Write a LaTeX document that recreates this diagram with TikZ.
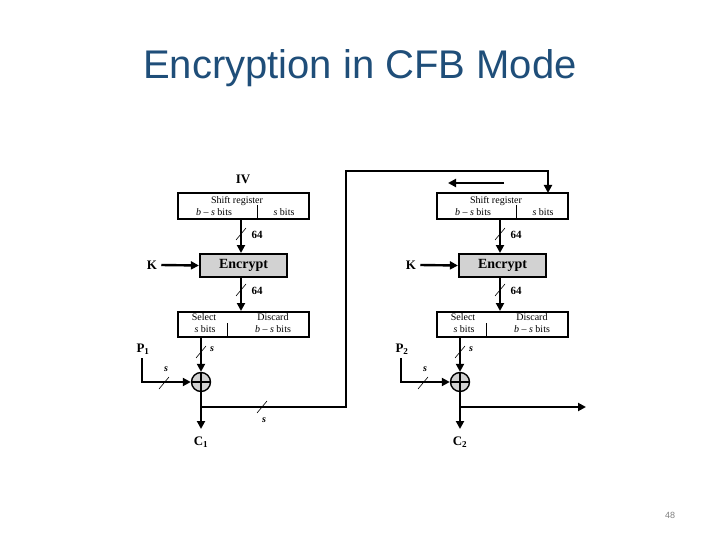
\documentclass[tikz,border=0pt]{standalone}
\usepackage{fontspec}
\setmainfont{Liberation Serif}
\newfontfamily\titlefont{Liberation Sans}
\usetikzlibrary{arrows.meta}
\definecolor{titleblue}{HTML}{1F4E79}
\begin{document}
\begin{tikzpicture}[x=1pt,y=-1pt,
  box/.style={draw,line width=2.2pt,inner sep=0pt},
  wire/.style={line width=2.4pt},
  arr/.style={wire,-{Triangle[length=8pt,width=8pt]}},
  sm/.style={font=\fontsize{10}{11}\selectfont,inner sep=0pt},
  lbl/.style={font=\bfseries\fontsize{13}{14}\selectfont,inner sep=0pt},
  sl/.style={line width=0.6pt}]
\useasboundingbox (0,0) rectangle (720,540);
\node[font=\titlefont\fontsize{40}{44}\selectfont,text=titleblue] (title) at (360,68) {Encryption in CFB Mode};
\node[font=\titlefont\fontsize{9}{10}\selectfont,text=gray] (pg) at (670,515) {48};
\foreach \o/\i in {0/1,259/2}{
\begin{scope}[xshift=\o]
 \node[box,minimum width=131pt,minimum height=26pt] (sr\i) at (243.5,206) {};
 \node[sm] (srt\i) at (237,201) {Shift register};
 \node[sm] (srb\i) at (214,212) {\textit{b} -- \textit{s} bits};
 \node[sm] (srs\i) at (284,212) {\textit{s} bits};
 \coordinate (d1\i) at (257,205); \coordinate (d2\i) at (257,219);
 \draw[line width=0.6pt] (d1\i) -- (d2\i);
 \node[box,fill=gray!35,minimum width=87pt,minimum height=23pt,font=\bfseries\fontsize{14}{15}\selectfont] (enc\i) at (243.5,265.5) {Encrypt};
 \node[box,minimum width=131pt,minimum height=25pt] (sel\i) at (243.5,324.5) {};
 \node[sm] (sa\i) at (204,317) {Select};
 \node[sm] (sb\i) at (205,329) {\textit{s} bits};
 \node[sm] (sc\i) at (273,317) {Discard};
 \node[sm] (sd\i) at (273,329) {\textit{b} -- \textit{s} bits};
 \coordinate (e1\i) at (227,323); \coordinate (e2\i) at (227,337);
 \draw[line width=0.6pt] (e1\i) -- (e2\i);
 \coordinate (a\i) at (241,219.5);
 \draw[arr] (a\i) -- (241,253);
 \draw[sl] (236,240) -- (246,228);
 \node[lbl,font=\bfseries\fontsize{11}{12}\selectfont] (n64a\i) at (257,235) {64};
 \draw[arr] (241,277) -- (241,311);
 \draw[sl] (236,296) -- (246,284);
 \node[lbl,font=\bfseries\fontsize{11}{12}\selectfont] (n64b\i) at (257,291) {64};
 \node[lbl] (K\i) at (152,265) {K};
 \draw[arr] (K\i.east)++(4,0) -- (enc\i.west);
 \node[circle,draw,line width=1.4pt,fill=gray!35,minimum size=19pt,inner sep=0pt] (x\i) at (201,382) {};
 \draw[line width=1.2pt] (x\i.north) -- (x\i.south) (x\i.west) -- (x\i.east);
 \draw[arr] (201,337) -- (x\i.north);
 \draw[sl] (196,358) -- (206,346);
 \node[sm,font=\itshape\bfseries\fontsize{10}{11}\selectfont] (s1\i) at (212,349) {s};
 \coordinate (p\i) at (142,358);
 \draw[arr] (p\i) -- (142,382) -- (x\i.west);
 \draw[sl] (159,389) -- (169,377);
 \node[sm,font=\itshape\bfseries\fontsize{10}{11}\selectfont] (s2\i) at (166,369) {s};
 \coordinate (c\i) at (201,429);
 \draw[arr] (x\i.south) -- (c\i);
\end{scope}}
\node[lbl] (P1) at (143,349) {P$_{\mathbf 1}$};
\node[lbl] (P2) at (402,349) {P$_{\mathbf 2}$};
\node[lbl] (C1) at (201,442) {C$_{\mathbf 1}$};
\node[lbl] (C2) at (460,442) {C$_{\mathbf 2}$};
\node[lbl] (IV) at (243,179) {IV};
\coordinate (j1) at (201,407);
\coordinate (fb) at (548,193);
\draw[arr] (j1) -- (346,407) -- (346,171) -- (548,171) -- (fb);
\draw[sl] (257,413) -- (267,401);
\node[sm,font=\itshape\bfseries\fontsize{10}{11}\selectfont] (s3) at (264,420) {s};
\coordinate (j2) at (460,407);
\coordinate (out) at (586,407);
\draw[arr] (j2) -- (out);
\coordinate (sa) at (504,183); \coordinate (sb) at (448,183);
\draw[arr] (sa) -- (sb);
\end{tikzpicture}
\end{document}
